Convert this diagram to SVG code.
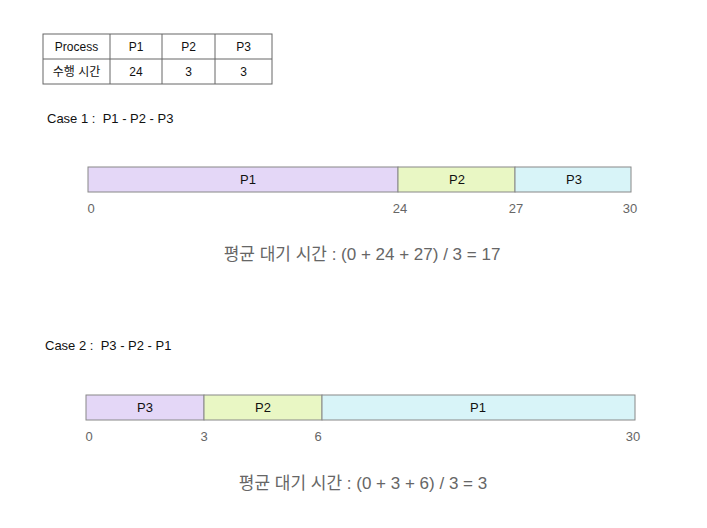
<svg xmlns="http://www.w3.org/2000/svg" width="707" height="528" viewBox="0 0 707 528">
<style>
text{font-family:"Liberation Sans","Noto Sans CJK KR",sans-serif;}
.cell{fill:#fff;stroke:#666;stroke-width:1;}
.t{font-size:12px;fill:#111;text-anchor:middle;}
.lbl{font-size:13px;fill:#111;white-space:pre;}
.bar{stroke:#888;stroke-width:1;}
.pu{fill:#e4d7f7;}
.gr{fill:#e9f7c4;}
.cy{fill:#d8f4f8;}
.bt{font-size:13px;fill:#111;text-anchor:middle;}
.tick{font-size:13px;fill:#666;text-anchor:middle;}
.avg{font-size:17px;fill:#666;text-anchor:middle;}
</style>
<rect width="707" height="528" fill="#fff"/>
<g id="table">
<rect class="cell" x="43" y="34" width="229" height="50"/>
<line x1="43" y1="59" x2="272" y2="59" stroke="#666"/>
<line x1="110" y1="34" x2="110" y2="84" stroke="#666"/>
<line x1="162" y1="34" x2="162" y2="84" stroke="#666"/>
<line x1="215" y1="34" x2="215" y2="84" stroke="#666"/>
<text class="t" x="76.5" y="51">Process</text>
<text class="t" x="136" y="51">P1</text>
<text class="t" x="188.5" y="51">P2</text>
<text class="t" x="243.5" y="51">P3</text>
<text class="t" x="76.5" y="76">수행 시간</text>
<text class="t" x="136" y="76">24</text>
<text class="t" x="188.5" y="76">3</text>
<text class="t" x="243.5" y="76">3</text>
</g>
<g id="case1">
<text class="lbl" x="47" y="123" xml:space="preserve">Case 1 :  P1 - P2 - P3</text>
<g id="c1p1"><rect class="bar pu" x="88" y="167" width="310" height="25"/><text class="bt" x="248" y="184">P1</text></g>
<g id="c1p2"><rect class="bar gr" x="398" y="167" width="117" height="25"/><text class="bt" x="457" y="184">P2</text></g>
<g id="c1p3"><rect class="bar cy" x="515" y="167" width="116" height="25"/><text class="bt" x="574" y="184">P3</text></g>
<text class="tick" x="91" y="213">0</text>
<text class="tick" x="400" y="213">24</text>
<text class="tick" x="516" y="213">27</text>
<text class="tick" x="630" y="213">30</text>
<text class="avg" x="362" y="260">평균 대기 시간 : (0 + 24 + 27) / 3 = 17</text>
</g>
<g id="case2">
<text class="lbl" x="45" y="350" xml:space="preserve">Case 2 :  P3 - P2 - P1</text>
<g id="c2p3"><rect class="bar pu" x="86" y="395" width="118" height="25"/><text class="bt" x="145" y="412">P3</text></g>
<g id="c2p2"><rect class="bar gr" x="204" y="395" width="118" height="25"/><text class="bt" x="263" y="412">P2</text></g>
<g id="c2p1"><rect class="bar cy" x="322" y="395" width="313" height="25"/><text class="bt" x="478" y="412">P1</text></g>
<text class="tick" x="89" y="441">0</text>
<text class="tick" x="204" y="441">3</text>
<text class="tick" x="318" y="441">6</text>
<text class="tick" x="633" y="441">30</text>
<text class="avg" x="363" y="489">평균 대기 시간 : (0 + 3 + 6) / 3 = 3</text>
</g>
</svg>
